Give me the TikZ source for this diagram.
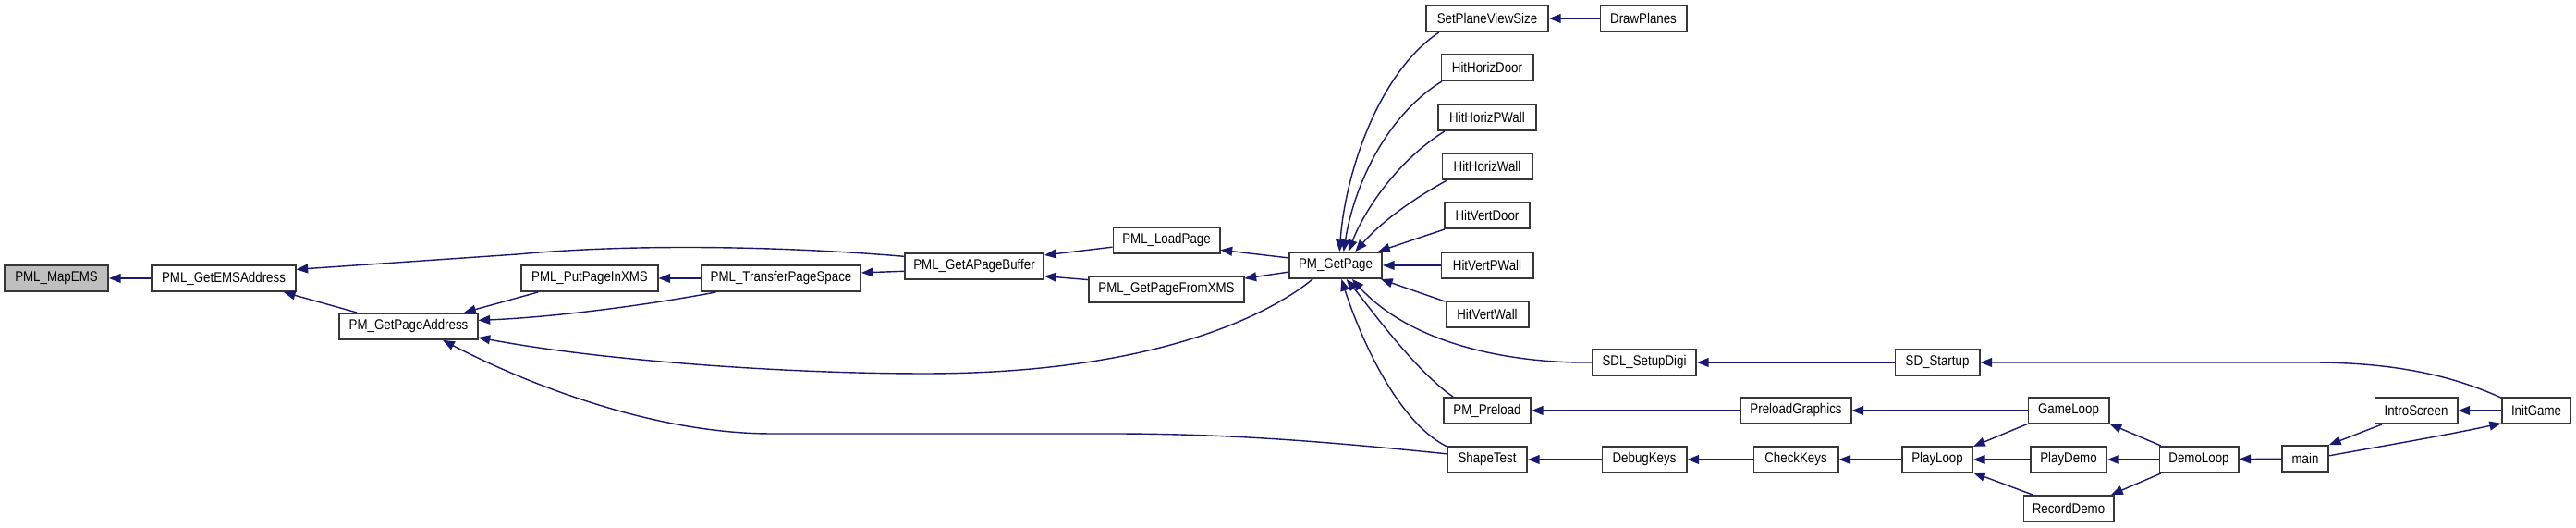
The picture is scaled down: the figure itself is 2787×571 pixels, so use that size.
\documentclass[tikz,border=0pt]{standalone}
\usepackage{fontspec}
\usepackage{tikz}
\usetikzlibrary{arrows.meta}
\newfontfamily\cgfamily{Liberation Sans}[FakeStretch=0.86]
\newcommand{\cgfont}{\cgfamily\fontsize{4.4pt}{5pt}\selectfont}
\definecolor{cgedge}{RGB}{25,25,112}
\definecolor{cgframe}{RGB}{55,55,55}
\definecolor{cgroot}{RGB}{191,191,191}
\tikzset{
  cgbox/.style={draw=cgframe, line width=0.55pt, fill=white, inner sep=0pt, minimum height=0.28cm, font=\cgfont},
  cgrootbox/.style={cgbox, fill=cgroot},
  cgarr/.style={-{Triangle[length=3.6pt,width=2.8pt]}, line width=0.4pt, draw=cgedge}
}

\begin{document}
\begin{tikzpicture}[x=0.01cm, y=-0.01cm]
  \useasboundingbox (0,0) rectangle (2787,571);
  \node[cgrootbox, minimum width=1.12cm] (mapems) at (61,301) {PML\_MapEMS};
  \node[cgbox, minimum width=1.55cm] (gema) at (242,301) {PML\_GetEMSAddress};
  \node[cgbox, minimum width=1.49cm] (gpa) at (442,353) {PM\_GetPageAddress};
  \node[cgbox, minimum width=1.47cm] (putxms) at (638,301) {PML\_PutPageInXMS};
  \node[cgbox, minimum width=1.72cm] (transfer) at (845,301) {PML\_TransferPageSpace};
  \node[cgbox, minimum width=1.50cm] (gapb) at (1054,288) {PML\_GetAPageBuffer};
  \node[cgbox, minimum width=1.15cm] (loadpage) at (1262,260) {PML\_LoadPage};
  \node[cgbox, minimum width=1.67cm] (fromxms) at (1262,313) {PML\_GetPageFromXMS};
  \node[cgbox, minimum width=1.00cm] (getpage) at (1445,287) {PM\_GetPage};
  \node[cgbox, minimum width=1.32cm] (setplane) at (1609,20) {SetPlaneViewSize};
  \node[cgbox, minimum width=0.99cm] (hhdoor) at (1609,73) {HitHorizDoor};
  \node[cgbox, minimum width=1.06cm] (hhpwall) at (1609,127) {HitHorizPWall};
  \node[cgbox, minimum width=0.97cm] (hhwall) at (1609,180) {HitHorizWall};
  \node[cgbox, minimum width=0.92cm] (hvdoor) at (1609,233) {HitVertDoor};
  \node[cgbox, minimum width=0.99cm] (hvpwall) at (1609,287) {HitVertPWall};
  \node[cgbox, minimum width=0.89cm] (hvwall) at (1609,340) {HitVertWall};
  \node[cgbox, minimum width=0.94cm] (preload) at (1609,444) {PM\_Preload};
  \node[cgbox, minimum width=0.86cm] (shapetest) at (1609,497) {ShapeTest};
  \node[cgbox, minimum width=0.93cm] (drawplanes) at (1778,20) {DrawPlanes};
  \node[cgbox, minimum width=1.12cm] (setupdigi) at (1779,392) {SDL\_SetupDigi};
  \node[cgbox, minimum width=0.91cm] (debugkeys) at (1779,497) {DebugKeys};
  \node[cgbox, minimum width=1.19cm] (preloadgfx) at (1943,444) {PreloadGraphics};
  \node[cgbox, minimum width=0.91cm] (checkkeys) at (1943,497) {CheckKeys};
  \node[cgbox, minimum width=0.91cm] (sdstartup) at (2096,392) {SD\_Startup};
  \node[cgbox, minimum width=0.76cm] (playloop) at (2096,497) {PlayLoop};
  \node[cgbox, minimum width=0.87cm] (gameloop) at (2238,444) {GameLoop};
  \node[cgbox, minimum width=0.82cm] (playdemo) at (2238,497) {PlayDemo};
  \node[cgbox, minimum width=0.97cm] (recorddemo) at (2238,550) {RecordDemo};
  \node[cgbox, minimum width=0.85cm] (demoloop) at (2379,497) {DemoLoop};
  \node[cgbox, minimum width=0.50cm] (main) at (2494,496) {main};
  \node[cgbox, minimum width=0.89cm] (introscreen) at (2614,444) {IntroScreen};
  \node[cgbox, minimum width=0.74cm] (initgame) at (2744,444) {InitGame};
  \draw[cgarr] (gema) -- (mapems);
  \draw[cgarr] (gapb.172) .. controls (870,268) and (700,262) .. (560,275) -- (gema.7);
  \draw[cgarr] (gpa.165) -- (gema.347);
  \draw[cgarr] (putxms.195) -- (gpa.14);
  \draw[cgarr] (transfer) -- (putxms);
  \draw[cgarr] (transfer.192) .. controls (700,330) and (600,343) .. (gpa.5);
  \draw[cgarr] (gapb.184) -- (transfer.4);
  \draw[cgarr] (loadpage.187) -- (gapb.9);
  \draw[cgarr] (fromxms.173) -- (gapb.352);
  \draw[cgarr] (getpage.171) -- (loadpage.350);
  \draw[cgarr] (getpage.188) -- (fromxms.8);
  \draw[cgarr] (getpage.211) .. controls (1380,335) and (1260,404) .. (1000,404) .. controls (850,404) and (650,390) .. (gpa.351);
  \draw[cgarr] (shapetest.172) .. controls (1420,476) and (1320,469) .. (1200,469) -- (835,469) .. controls (700,469) and (560,410) .. (gpa.338);
  \draw[cgarr] (drawplanes) -- (setplane);
  \draw[cgarr] (setplane.196) .. controls (1490,80) and (1455,190) .. (getpage.74);
  \draw[cgarr] (hhdoor.197) .. controls (1500,125) and (1465,200) .. (getpage.60);
  \draw[cgarr] (hhpwall.198) .. controls (1510,175) and (1475,230) .. (getpage.47);
  \draw[cgarr] (hhwall.199) .. controls (1520,220) and (1490,245) .. (getpage.35);
  \draw[cgarr] (hvdoor.198) -- (getpage.18);
  \draw[cgarr] (hvpwall) -- (getpage);
  \draw[cgarr] (hvwall.163) -- (getpage.343);
  \draw[cgarr] (setupdigi.west) .. controls (1640,393) and (1530,375) .. (getpage.320);
  \draw[cgarr] (preload.158) .. controls (1530,400) and (1480,330) .. (getpage.308);
  \draw[cgarr] (shapetest.162) .. controls (1510,455) and (1470,360) .. (getpage.293);
  \draw[cgarr] (sdstartup) -- (setupdigi);
  \draw[cgarr] (initgame.160) .. controls (2640,400) and (2570,392) .. (2500,392) -- (sdstartup.east);
  \draw[cgarr] (preloadgfx) -- (preload);
  \draw[cgarr] (gameloop) -- (preloadgfx);
  \draw[cgarr] (initgame) -- (introscreen);
  \draw[cgarr] (introscreen.202) -- (main.north east);
  \draw[cgarr] (main.7) .. controls (2580,482) and (2650,470) .. (initgame.200);
  \draw[cgarr] (main) -- (demoloop);
  \draw[cgarr] (demoloop.160) -- (gameloop.342);
  \draw[cgarr] (demoloop) -- (playdemo);
  \draw[cgarr] (demoloop.200) -- (recorddemo.18);
  \draw[cgarr] (gameloop.198) -- (playloop.20);
  \draw[cgarr] (playdemo) -- (playloop);
  \draw[cgarr] (recorddemo.159) -- (playloop.340);
  \draw[cgarr] (playloop) -- (checkkeys);
  \draw[cgarr] (checkkeys) -- (debugkeys);
  \draw[cgarr] (debugkeys) -- (shapetest);
\end{tikzpicture}
\end{document}
